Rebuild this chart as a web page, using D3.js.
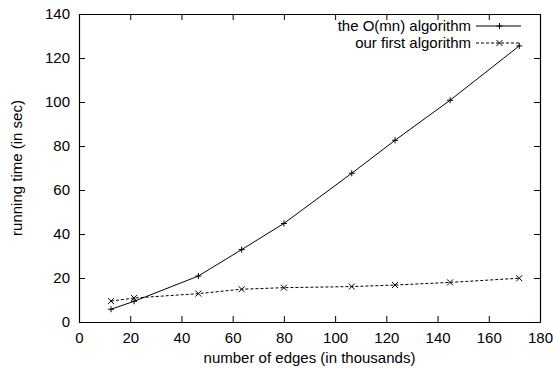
<!DOCTYPE html>
<html>
<head>
<meta charset="utf-8">
<script src="https://cdn.jsdelivr.net/npm/d3@7"></script>
<style>
  body { margin: 0; background: #fff; }
  text { font-family: "Liberation Sans", Arial, sans-serif; font-size: 15px; fill: #000; }
</style>
</head>
<body>
<div id="chart"></div>
<script>
// data
var edges = [12.5, 21.5, 46.6, 63.5, 80, 106.5, 123.4, 144.9, 171.9];
var omnTime = [5.8, 9.4, 20.9, 32.9, 44.8, 67.6, 82.6, 100.8, 125.5];
var firstTime = [9.5, 10.9, 12.9, 14.9, 15.6, 16.1, 16.8, 18.0, 19.9];
var xTicks = [0, 20, 40, 60, 80, 100, 120, 140, 160, 180];
var yTicks = [0, 20, 40, 60, 80, 100, 120, 140];
var seriesNames = ["the O(mn) algorithm", "our first algorithm"];

var W = 553, H = 368;
var margin = {top: 14, right: 13, bottom: 46, left: 79};
var width = W - margin.left - margin.right;
var height = H - margin.top - margin.bottom;

var svg = d3.select("#chart")
    .append("svg")
    .attr("width", W)
    .attr("height", H)
    .append("g")
    .attr("transform", "translate(" + margin.left + "," + margin.top + ")");

var x = d3.scaleLinear().domain([0, 180]).range([0, width]);
var y = d3.scaleLinear().domain([0, 140]).range([height, 0]);

// axes, ticks pointing inward and mirrored
svg.append("g")
    .attr("transform", "translate(0," + height + ")")
    .call(d3.axisBottom(x).tickValues(xTicks).tickSizeInner(-6).tickSizeOuter(0).tickPadding(10));
svg.append("g")
    .call(d3.axisTop(x).tickValues(xTicks).tickSizeInner(-6).tickSizeOuter(0).tickFormat(""));
svg.append("g")
    .call(d3.axisLeft(y).tickValues(yTicks).tickSizeInner(-6).tickSizeOuter(0).tickPadding(9));
svg.append("g")
    .attr("transform", "translate(" + width + ",0)")
    .call(d3.axisRight(y).tickValues(yTicks).tickSizeInner(-6).tickSizeOuter(0).tickFormat(""));

svg.selectAll(".domain").attr("stroke", "#000").attr("stroke-width", 1.2);
svg.selectAll(".tick line").attr("stroke", "#000");
svg.selectAll(".tick text")
    .style("font-family", "'Liberation Sans', Arial, sans-serif")
    .style("font-size", "15px");

// axis labels
svg.append("text")
    .attr("x", width / 2)
    .attr("y", height + 41)
    .attr("text-anchor", "middle")
    .text("number of edges (in thousands)");
svg.append("text")
    .attr("transform", "translate(-57," + (height / 2) + ") rotate(-90)")
    .attr("text-anchor", "middle")
    .text("running time (in sec)");

var line = d3.line()
    .x(function(d) { return x(d.x); })
    .y(function(d) { return y(d.y); });

function toPoints(vals) {
    return edges.map(function(e, i) { return {x: e, y: vals[i]}; });
}

function plus(g, cx, cy) {
    g.append("path")
        .attr("d", "M" + (cx - 3) + "," + cy + "H" + (cx + 3) + "M" + cx + "," + (cy - 3) + "V" + (cy + 3))
        .attr("stroke", "#000").attr("stroke-width", 1).attr("fill", "none");
}
function cross(g, cx, cy) {
    g.append("path")
        .attr("d", "M" + (cx - 3) + "," + (cy - 3) + "L" + (cx + 3) + "," + (cy + 3) +
                   "M" + (cx - 3) + "," + (cy + 3) + "L" + (cx + 3) + "," + (cy - 3))
        .attr("stroke", "#000").attr("stroke-width", 1).attr("fill", "none");
}

var omnData = toPoints(omnTime);
var firstData = toPoints(firstTime);

svg.append("path")
    .datum(omnData)
    .attr("fill", "none")
    .attr("stroke", "#000")
    .attr("stroke-width", 1)
    .attr("d", line);
svg.append("path")
    .datum(firstData)
    .attr("fill", "none")
    .attr("stroke", "#000")
    .attr("stroke-width", 1)
    .attr("stroke-dasharray", "3,2")
    .attr("d", line);

var marks = svg.append("g");
omnData.forEach(function(d) { plus(marks, x(d.x), y(d.y)); });
firstData.forEach(function(d) { cross(marks, x(d.x), y(d.y)); });

// legend
var legend = svg.append("g");
var legX = 392, lineX0 = 397, lineX1 = 442;
seriesNames.forEach(function(name, i) {
    var ly = 12 + i * 17;
    legend.append("text")
        .attr("x", legX)
        .attr("y", ly + 5)
        .attr("text-anchor", "end")
        .text(name);
    var l = legend.append("line")
        .attr("x1", lineX0).attr("x2", lineX1)
        .attr("y1", ly).attr("y2", ly)
        .attr("stroke", "#000").attr("stroke-width", 1);
    if (i == 1) {
        l.attr("stroke-dasharray", "3,2");
        cross(legend, (lineX0 + lineX1) / 2 + 1, ly);
    } else {
        plus(legend, (lineX0 + lineX1) / 2 + 1, ly);
    }
});
</script>
</body>
</html>
